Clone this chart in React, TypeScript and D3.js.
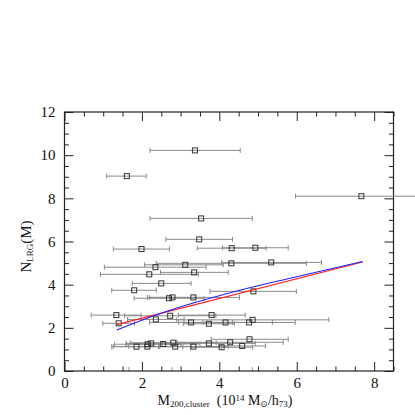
import React, { useEffect, useRef } from 'react';
import * as d3 from 'd3';

// cluster mass (1e14 Msun/h73), LRG count, and the x error bar ends
const massX = [3.37, 1.61, 7.67, 3.53, 3.48, 1.99, 4.32, 4.93, 4.31, 5.34, 3.12, 2.35, 2.19, 3.35, 2.50, 1.80, 4.88, 2.70, 2.79, 3.33,
  1.34, 2.73, 3.80, 1.40, 2.36, 3.27, 3.73, 4.16, 4.77, 4.86,
  1.86, 2.14, 2.15, 2.24, 2.55, 2.81, 2.86, 3.33, 3.73, 4.06, 4.28, 4.59, 4.78];
const nLrg = [10.22, 9.03, 8.10, 7.07, 6.10, 5.65, 5.69, 5.71, 4.99, 5.03, 4.92, 4.81, 4.48, 4.57, 4.06, 3.74, 3.69, 3.37, 3.41, 3.41,
  2.59, 2.56, 2.59, 2.21, 2.39, 2.25, 2.19, 2.25, 2.25, 2.37,
  1.13, 1.13, 1.24, 1.28, 1.25, 1.31, 1.13, 1.13, 1.28, 1.10, 1.33, 1.16, 1.47];
const errLo = [2.21, 1.09, 5.97, 2.21, 2.62, 1.26, 3.43, 4.08, 2.37, 4.06, 2.07, 1.03, 0.93, 2.48, 1.75, 1.22, 3.76, 1.80, 2.20, 2.14,
  0.69, 1.55, 2.94, 0.99, 1.63, 2.20, 3.07, 2.95, 3.58, 2.89,
  1.26, 1.22, 1.29, 1.59, 1.60, 1.70, 1.66, 2.43, 2.53, 3.26, 2.91, 3.99, 3.79];
const errHi = [4.54, 2.11, 9.40, 4.85, 4.34, 2.71, 5.21, 5.78, 6.25, 6.64, 4.10, 3.66, 3.46, 4.23, 3.27, 2.37, 5.99, 3.61, 3.38, 4.52,
  1.98, 3.91, 4.67, 1.81, 3.09, 4.34, 4.39, 5.37, 5.96, 6.83,
  2.46, 3.06, 3.01, 2.89, 3.50, 3.92, 4.06, 4.23, 4.93, 4.86, 5.65, 5.19, 5.78];

// two fitted relations
const redX = [1.35, 7.7];
const redY = [2.15, 5.05];
const blueX = [1.35, 2.4, 4.53, 5.83, 7.7];
const blueY = [1.90, 2.62, 3.74, 4.30, 5.07];

// short marks on the bottom axis
const rugX = [1.65, 2.76, 4.84];

const xMajor = [0, 2, 4, 6, 8];
const yMajor = [0, 2, 4, 6, 8, 10, 12];

const App = () => {
  const svgRef = useRef<SVGSVGElement>(null);

  useEffect(() => {
    const svg = d3.select(svgRef.current);
    svg.selectAll('*').remove();

    const width = 415;
    const height = 415;
    const margin = { top: 112, right: 21.5, bottom: 44, left: 64.5 };
    const innerW = width - margin.left - margin.right;
    const innerH = height - margin.top - margin.bottom;
    const serif = '"Liberation Serif", "Times New Roman", "DejaVu Serif", serif';

    const x = d3.scaleLinear().domain([0, 8.5]).range([0, innerW]);
    const y = d3.scaleLinear().domain([0, 12]).range([innerH, 0]);

    const g = svg.append('g').attr('transform', `translate(${margin.left},${margin.top})`);

    const xMinor = d3.range(0, 8.51, 0.5).filter(v => !xMajor.includes(v));
    const yMinor = d3.range(0, 12.01, 0.5).filter(v => !yMajor.includes(v));

    const styleAxis = (sel: any) => {
      sel.attr('font-family', serif).attr('font-size', 15);
      sel.select('.domain').remove();
      sel.selectAll('line').attr('stroke', '#222').attr('stroke-width', 1);
      sel.selectAll('text').attr('fill', '#111');
    };

    // bottom
    g.append('g').attr('transform', `translate(0,${innerH})`)
      .call(d3.axisBottom(x).tickValues(xMajor).tickSize(-9).tickPadding(6).tickFormat(d3.format('d')))
      .call(styleAxis);
    g.append('g').attr('transform', `translate(0,${innerH})`)
      .call(d3.axisBottom(x).tickValues(xMinor).tickSize(-4.5).tickFormat(() => ''))
      .call(styleAxis);
    g.append('g').attr('transform', `translate(0,${innerH})`)
      .call(d3.axisBottom(x).tickValues(rugX).tickSize(-4).tickFormat(() => ''))
      .call(styleAxis)
      .selectAll('line').attr('stroke', '#999');
    // top
    g.append('g')
      .call(d3.axisTop(x).tickValues(xMajor).tickSize(-9).tickFormat(() => ''))
      .call(styleAxis);
    g.append('g')
      .call(d3.axisTop(x).tickValues(xMinor).tickSize(-4.5).tickFormat(() => ''))
      .call(styleAxis);
    // left
    g.append('g')
      .call(d3.axisLeft(y).tickValues(yMajor).tickSize(-9).tickPadding(9).tickFormat(d3.format('d')))
      .call(styleAxis);
    g.append('g')
      .call(d3.axisLeft(y).tickValues(yMinor).tickSize(-4.5).tickFormat(() => ''))
      .call(styleAxis);
    // right
    g.append('g').attr('transform', `translate(${innerW},0)`)
      .call(d3.axisRight(y).tickValues(yMajor).tickSize(-9).tickFormat(() => ''))
      .call(styleAxis);
    g.append('g').attr('transform', `translate(${innerW},0)`)
      .call(d3.axisRight(y).tickValues(yMinor).tickSize(-4.5).tickFormat(() => ''))
      .call(styleAxis);

    // frame
    g.append('rect')
      .attr('width', innerW).attr('height', innerH)
      .attr('fill', 'none').attr('stroke', '#222').attr('stroke-width', 1.2);

    const pts = massX.map((m, i) => ({ m, n: nLrg[i], lo: errLo[i], hi: errHi[i] }));

    // error bars
    const eb = g.append('g').attr('stroke', '#8a8a8a').attr('stroke-width', 1).attr('fill', 'none');
    eb.selectAll('.bar').data(pts).enter().append('line')
      .attr('x1', d => x(d.lo)).attr('x2', d => x(d.hi))
      .attr('y1', d => y(d.n)).attr('y2', d => y(d.n));
    eb.selectAll('.capL').data(pts).enter().append('line')
      .attr('x1', d => x(d.lo)).attr('x2', d => x(d.lo))
      .attr('y1', d => y(d.n) - 2.5).attr('y2', d => y(d.n) + 2.5);
    eb.selectAll('.capR').data(pts).enter().append('line')
      .attr('x1', d => x(d.hi)).attr('x2', d => x(d.hi))
      .attr('y1', d => y(d.n) - 2.5).attr('y2', d => y(d.n) + 2.5);

    // markers
    g.append('g').selectAll('rect').data(pts).enter().append('rect')
      .attr('x', d => x(d.m) - 2.5).attr('y', d => y(d.n) - 2.5)
      .attr('width', 5).attr('height', 5)
      .attr('fill', 'none').attr('stroke', '#333').attr('stroke-width', 1);

    // fit lines
    const redLine = d3.line<number>().x((_, i) => x(redX[i])).y(d => y(d));
    const blueLine = d3.line<number>().x((_, i) => x(blueX[i])).y(d => y(d)).curve(d3.curveMonotoneX);
    g.append('path').attr('d', redLine(redY)).attr('stroke', '#ff2020').attr('stroke-width', 1.1).attr('fill', 'none');
    g.append('path').attr('d', blueLine(blueY)).attr('stroke', '#2020ff').attr('stroke-width', 1.1).attr('fill', 'none');

    // y label
    const yl = svg.append('text')
      .attr('transform', `translate(31,${margin.top + innerH / 2 + 5}) rotate(-90)`)
      .attr('text-anchor', 'middle')
      .attr('font-family', serif).attr('font-size', 15).attr('fill', '#111');
    yl.append('tspan').text('N');
    yl.append('tspan').attr('baseline-shift', '-25%').attr('font-size', 9).text('LRG');
    yl.append('tspan').text('(M)');

    // x label
    const xl = svg.append('text')
      .attr('x', 225).attr('y', 405)
      .attr('text-anchor', 'middle')
      .attr('font-family', serif).attr('font-size', 14).attr('fill', '#111');
    xl.append('tspan').text('M');
    xl.append('tspan').attr('baseline-shift', '-25%').attr('font-size', 9).text('200,cluster');
    xl.append('tspan').text('\u00a0\u00a0(10');
    xl.append('tspan').attr('baseline-shift', '40%').attr('font-size', 9).text('14');
    xl.append('tspan').text('\u00a0M');
    xl.append('tspan').attr('baseline-shift', '-25%').attr('font-size', 9).text('\u2299');
    xl.append('tspan').text('/h');
    xl.append('tspan').attr('baseline-shift', '-25%').attr('font-size', 9).text('73');
    xl.append('tspan').text(')');
  }, []);

  return (
    <svg
      ref={svgRef}
      width={415}
      height={415}
      style={{ position: 'absolute', left: 0, top: 0, background: '#fff' }}
    ></svg>
  );
};

export default App;
